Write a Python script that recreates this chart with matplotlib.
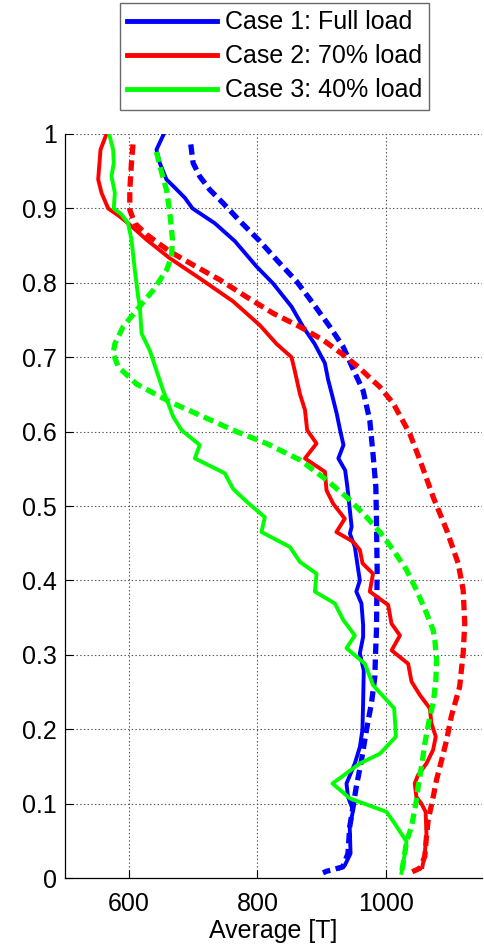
import matplotlib
matplotlib.use("Agg")
import matplotlib.pyplot as plt

plt.rcParams['font.family'] = ['Liberation Sans', 'DejaVu Sans']
plt.rcParams['lines.scale_dashes'] = False

# Case 1 (Full load)
c1_solid_x = [654, 642.6, 647.8, 658, 671, 687, 698.7, 733.5, 764.7, 798.4, 824.4, 853, 871, 889, 905, 910, 915.7, 923.5, 928.7, 934, 926, 936.6, 940, 944, 946.7, 944, 951.7, 957, 959.5, 954, 962, 964.6, 964.6, 959.5, 965.6, 964.6, 963.5, 959.5, 951.7, 938.7, 941, 949, 943.7, 945, 936, 928]
c1_solid_y = [1.0, 0.979, 0.961, 0.939, 0.928, 0.914, 0.9, 0.880, 0.856, 0.822, 0.799, 0.768, 0.741, 0.718, 0.692, 0.670, 0.651, 0.624, 0.602, 0.582, 0.564, 0.548, 0.526, 0.494, 0.472, 0.463, 0.445, 0.414, 0.400, 0.385, 0.369, 0.340, 0.324, 0.302, 0.279, 0.235, 0.199, 0.176, 0.154, 0.127, 0.109, 0.091, 0.069, 0.033, 0.017, 0.013]
c1_dash_x = [696, 699.7, 710, 725.7, 746.5, 772.5, 803.6, 829.6, 860.8, 886.8, 912.7, 933.5, 950, 964.6, 975, 980, 984.4, 985.4, 986.5, 985.4, 984, 982.8, 977.6, 969.8, 962, 954, 949, 943.7, 941, 933, 907.5, 902]
c1_dash_y = [0.986, 0.961, 0.943, 0.925, 0.907, 0.883, 0.856, 0.831, 0.802, 0.772, 0.741, 0.714, 0.682, 0.655, 0.615, 0.570, 0.526, 0.481, 0.414, 0.333, 0.302, 0.270, 0.235, 0.199, 0.158, 0.123, 0.096, 0.069, 0.033, 0.015, 0.009, 0.007]

# Case 2 (70% load)
c2_solid_x = [564.7, 555.4, 551.7, 556.9, 567.3, 585.5, 601, 627, 663.4, 710, 762, 803.6, 829.6, 853, 858, 866, 874, 877.4, 892, 874, 905, 907.6, 918, 936, 923, 949, 959.5, 963.7, 980, 975, 1003.6, 1008.8, 1022, 1009, 1034.8, 1040, 1053, 1068.6, 1071, 1077.8, 1073.6, 1063.3, 1050, 1045, 1047.6, 1055.4, 1062, 1063.3, 1060.7, 1057]
c2_solid_y = [1.0, 0.979, 0.939, 0.921, 0.9, 0.889, 0.878, 0.858, 0.833, 0.806, 0.775, 0.743, 0.718, 0.700, 0.682, 0.651, 0.629, 0.602, 0.584, 0.564, 0.546, 0.521, 0.503, 0.483, 0.465, 0.452, 0.441, 0.423, 0.409, 0.385, 0.367, 0.342, 0.326, 0.306, 0.288, 0.264, 0.246, 0.228, 0.208, 0.190, 0.172, 0.154, 0.138, 0.127, 0.109, 0.100, 0.089, 0.060, 0.033, 0.015]
c2_dash_x = [606, 603.6, 601, 601, 608.8, 627, 663.4, 699.7, 741.3, 783, 824.4, 866, 902.3, 938.7, 959.5, 978, 990.7, 1011.5, 1037.4, 1053, 1073.8, 1094.6, 1112.7, 1120.5, 1123, 1120.5, 1115, 1102, 1094.6, 1086.8, 1079, 1073.8, 1066, 1063.3, 1060.7, 1053, 1037.4]
c2_dash_y = [0.986, 0.961, 0.925, 0.898, 0.880, 0.865, 0.842, 0.824, 0.804, 0.781, 0.759, 0.741, 0.723, 0.700, 0.685, 0.670, 0.660, 0.638, 0.597, 0.562, 0.512, 0.468, 0.423, 0.387, 0.342, 0.302, 0.257, 0.217, 0.185, 0.158, 0.132, 0.109, 0.078, 0.055, 0.029, 0.013, 0.007]

# Case 3 (40% load)
c3_solid_x = [568.8, 575, 576, 572.5, 577.7, 576, 588, 598.4, 603.6, 608.8, 614, 616.6, 619.3, 632.2, 642.6, 653, 660.8, 668.6, 681.6, 710, 702.4, 749, 762, 782.8, 811.4, 806.2, 850.4, 866, 892, 889.4, 920.5, 933.5, 951.7, 938.7, 967.3, 980.3, 1013, 1015.7, 990.7, 959.5, 916.9, 944, 1001, 1014, 1032.2, 1029.6, 1024.4]
c3_solid_y = [1.0, 0.979, 0.961, 0.943, 0.921, 0.9, 0.892, 0.880, 0.858, 0.817, 0.781, 0.768, 0.732, 0.709, 0.682, 0.655, 0.638, 0.620, 0.602, 0.582, 0.564, 0.544, 0.523, 0.506, 0.485, 0.465, 0.445, 0.425, 0.409, 0.385, 0.369, 0.347, 0.326, 0.309, 0.288, 0.259, 0.228, 0.190, 0.167, 0.154, 0.127, 0.107, 0.089, 0.073, 0.049, 0.033, 0.007]
c3_dash_x = [642.6, 647.8, 658.2, 663.4, 667.5, 666, 658.2, 637.4, 611.4, 590.6, 577.7, 575, 583, 611.4, 663.4, 715.4, 767.3, 814, 866, 907.6, 944, 970, 990.7, 1011.5, 1032.3, 1047.8, 1063.4, 1073.8, 1076.4, 1079, 1078, 1073.8, 1068.6, 1060.8, 1055.6, 1050.4, 1047.8, 1040, 1032.2, 1028, 1024.4]
c3_dash_y = [0.976, 0.957, 0.925, 0.894, 0.858, 0.835, 0.817, 0.790, 0.763, 0.741, 0.718, 0.705, 0.687, 0.664, 0.640, 0.620, 0.600, 0.584, 0.562, 0.535, 0.508, 0.485, 0.465, 0.441, 0.414, 0.387, 0.356, 0.333, 0.320, 0.293, 0.266, 0.235, 0.217, 0.181, 0.150, 0.123, 0.105, 0.069, 0.049, 0.025, 0.007]

labels = ["Case 1: Full load", "Case 2: 70% load", "Case 3: 40% load"]
colors = ["#0000ff", "#ff0000", "#00ff00"]
xticks = [600, 800, 1000]
yticks = [0, 0.1, 0.2, 0.3, 0.4, 0.5, 0.6, 0.7, 0.8, 0.9, 1]
ytick_labels = ["0", "0.1", "0.2", "0.3", "0.4", "0.5", "0.6", "0.7", "0.8", "0.9", "1"]

fig = plt.figure(figsize=(4.85, 9.49), dpi=100)
ax = fig.add_axes([0.134, 0.0748, 0.860, 0.784])

series = [
    (c1_solid_x, c1_solid_y, c1_dash_x, c1_dash_y),
    (c2_solid_x, c2_solid_y, c2_dash_x, c2_dash_y),
    (c3_solid_x, c3_solid_y, c3_dash_x, c3_dash_y),
]
handles = []
for (sx, sy, dx, dy), col, lab in zip(series, colors, labels):
    h, = ax.plot(sx, sy, color=col, lw=2.8, label=lab, solid_joinstyle='round')
    ax.plot(dx, dy, color=col, lw=3.8, linestyle=(0, (7.5, 4)))
    handles.append(h)

ax.set_xlim(500, 1150)
ax.set_ylim(0, 1)
ax.set_xticks(xticks)
ax.set_xticklabels([str(t) for t in xticks])
ax.set_yticks(yticks)
ax.set_yticklabels(ytick_labels)
ax.tick_params(direction='in', length=6, width=0.8, labelsize=18)
ax.tick_params(axis='y', pad=6)
ax.tick_params(axis='x', pad=10)
ax.grid(True, linestyle=':', color='#555555', linewidth=0.8)
ax.set_axisbelow(True)
for s in ['top', 'right']:
    ax.spines[s].set_visible(False)
for s in ['left', 'bottom']:
    ax.spines[s].set_linewidth(0.9)
ax.set_xlabel("Average [T]", fontsize=18, labelpad=2)

leg = fig.legend(handles=handles, loc='upper center', bbox_to_anchor=(0.566, 0.997),
                 fontsize=18, handlelength=3.6, handletextpad=0.3, labelspacing=0.4,
                 borderpad=0.3, fancybox=False, frameon=True, borderaxespad=0)
leg.get_frame().set_edgecolor('#444444')
leg.get_frame().set_linewidth(1.0)
for l in leg.get_lines():
    l.set_linewidth(3.5)

fig.savefig("out.png", dpi=100)
